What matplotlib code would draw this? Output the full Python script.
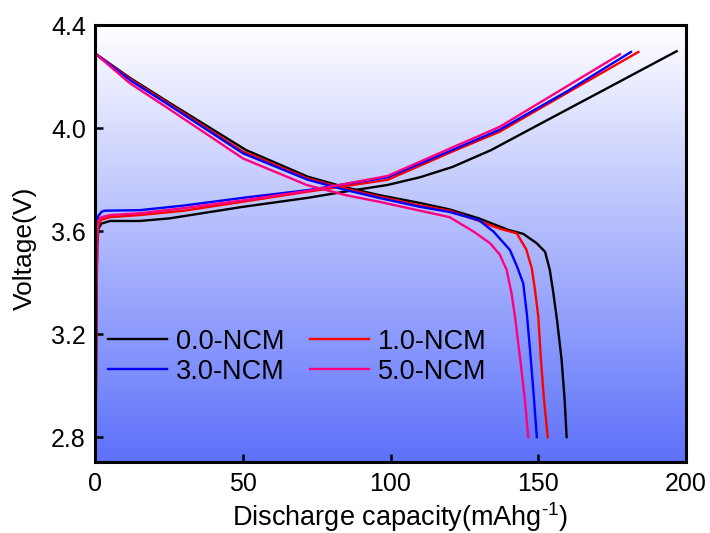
import numpy as np
import matplotlib
matplotlib.use("Agg")
import matplotlib.pyplot as plt
from matplotlib.colors import LinearSegmentedColormap

plt.rcParams['font.family'] = ['Liberation Sans', 'DejaVu Sans']
plt.rcParams['mathtext.fontset'] = 'custom'
plt.rcParams['mathtext.rm'] = 'Liberation Sans'
plt.rcParams['mathtext.it'] = 'Liberation Sans'

labels = ["0.0-NCM", "1.0-NCM", "3.0-NCM", "5.0-NCM"]
colors = ["#000000", "#ff0000", "#0000ff", "#ff0080"]

# charge curves (capacity, voltage)
c0_x = [0, 0.3, 0.6, 1.0, 2, 5, 15, 25, 50, 72, 85, 99, 110, 121, 134, 150, 170, 197]
c0_y = [2.70, 3.30, 3.55, 3.61, 3.63, 3.64, 3.64, 3.65, 3.695, 3.73, 3.755, 3.78, 3.81, 3.85, 3.915, 4.013, 4.135, 4.30]
c1_x = [0, 0.3, 0.6, 1, 2, 5, 15, 30, 50, 72, 99, 121, 137, 160, 184]
c1_y = [2.70, 3.35, 3.58, 3.63, 3.645, 3.655, 3.663, 3.68, 3.715, 3.754, 3.80, 3.91, 3.987, 4.139, 4.297]
c3_x = [0, 0.2, 0.5, 1, 2, 3, 15, 30, 50, 72, 99, 121, 137, 160, 181.5]
c3_y = [2.70, 3.40, 3.62, 3.66, 3.675, 3.68, 3.682, 3.70, 3.73, 3.76, 3.81, 3.916, 3.995, 4.145, 4.297]
c5_x = [0, 0.3, 0.6, 1, 2, 5, 15, 30, 50, 72, 99, 121, 137, 160, 177.8]
c5_y = [2.70, 3.35, 3.58, 3.64, 3.655, 3.663, 3.67, 3.69, 3.72, 3.757, 3.815, 3.926, 4.006, 4.165, 4.288]

# discharge curves
d0_x = [0, 12, 25, 51, 72, 85, 96, 110, 120, 130, 140, 145, 149.6, 152.4, 154, 155.2, 156.5, 158, 159, 159.7]
d0_y = [4.29, 4.194, 4.10, 3.916, 3.812, 3.77, 3.741, 3.71, 3.685, 3.65, 3.605, 3.59, 3.553, 3.52, 3.45, 3.36, 3.25, 3.10, 2.95, 2.80]
d1_x = [0, 12, 25, 50, 72, 85, 96, 110, 120, 130, 137, 142.8, 146, 147.9, 149, 150.1, 151, 152, 153.3]
d1_y = [4.29, 4.19, 4.095, 3.91, 3.805, 3.765, 3.735, 3.70, 3.68, 3.64, 3.61, 3.592, 3.53, 3.456, 3.37, 3.268, 3.10, 2.95, 2.80]
d3_x = [0, 12, 25, 50, 72, 85, 96, 110, 120, 130, 135, 140.5, 143, 145, 146.3, 147.3, 148.5, 149.6]
d3_y = [4.29, 4.185, 4.09, 3.903, 3.80, 3.76, 3.73, 3.695, 3.675, 3.643, 3.598, 3.527, 3.46, 3.397, 3.27, 3.138, 2.97, 2.80]
d5_x = [0, 11.7, 25, 50, 71.6, 85, 96, 110, 120, 128, 133.7, 137, 139.4, 141, 142.2, 144, 145.5, 146.7]
d5_y = [4.29, 4.175, 4.075, 3.883, 3.78, 3.74, 3.715, 3.68, 3.655, 3.60, 3.554, 3.51, 3.449, 3.36, 3.268, 3.10, 2.95, 2.80]

charge = [(c0_x, c0_y), (c1_x, c1_y), (c3_x, c3_y), (c5_x, c5_y)]
discharge = [(d0_x, d0_y), (d1_x, d1_y), (d3_x, d3_y), (d5_x, d5_y)]

xticks = [0, 50, 100, 150, 200]
yticks = [2.8, 3.2, 3.6, 4.0, 4.4]

fig = plt.figure(figsize=(7.1, 5.33), dpi=100)
ax = fig.add_axes([0.1345, 0.1332, 0.831, 0.819])

cmap = LinearSegmentedColormap.from_list("bg", ["#ffffff", "#5d71fa"])
grad = np.linspace(0, 1, 256).reshape(-1, 1)
ax.imshow(grad, cmap=cmap, aspect='auto', extent=[0, 1, 0, 1],
          transform=ax.transAxes, origin='upper', zorder=0)

handles = []
for (cx, cy), (dx, dy), col, lab in zip(charge, discharge, colors, labels):
    h, = ax.plot(cx, cy, color=col, lw=1.7, label=lab, zorder=2)
    ax.plot(dx, dy, color=col, lw=1.7, zorder=2)
    handles.append(h)

ax.set_xlim(0, 200)
ax.set_ylim(2.703, 4.4)
ax.set_xticks(xticks)
ax.set_yticks(yticks)
ax.set_yticklabels([f"{v:.1f}" for v in yticks])
ax.tick_params(direction='in', length=6, width=1.8, labelsize=18, pad=7)
for s in ax.spines.values():
    s.set_linewidth(2.2)
    s.set_zorder(5)

ax.set_xlabel("Discharge capacity(mAhg$^{\\text{-}1}$)", fontsize=19.5)
ax.xaxis.set_label_coords(0.516, -0.087)
ax.set_ylabel("Voltage(V)", fontsize=19)
ax.yaxis.set_label_coords(-0.099, 0.49)

order = [0, 2, 1, 3]
ax.legend([handles[i] for i in order], [labels[i] for i in order], ncol=2,
          frameon=False, fontsize=19.5, loc='center left',
          bbox_to_anchor=(0.021, 0.2416), handlelength=2.2, handletextpad=0.33,
          columnspacing=0.9, labelspacing=0.15, borderaxespad=0, borderpad=0)

fig.savefig("out.png", dpi=100)
